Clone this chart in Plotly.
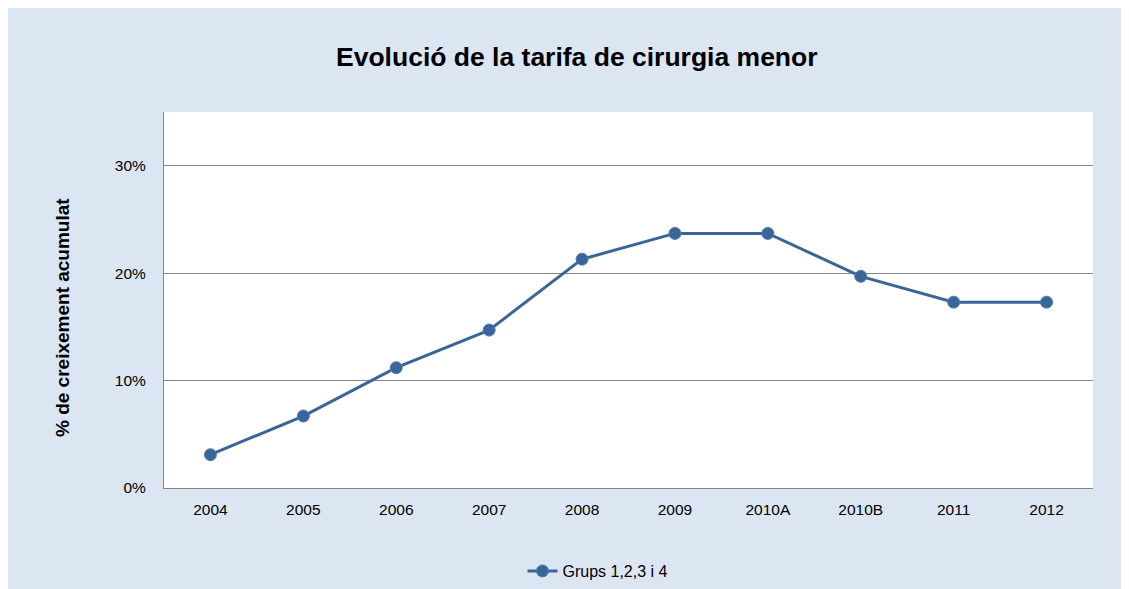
import plotly.graph_objects as go

categories = ["2004", "2005", "2006", "2007", "2008", "2009", "2010A", "2010B", "2011", "2012"]
values = [3.1, 6.7, 11.2, 14.7, 21.3, 23.7, 23.7, 19.7, 17.3, 17.3]
y_ticks = [0, 10, 20, 30]
y_tick_labels = ["0%", "10%", "20%", "30%"]
series_name = "Grups 1,2,3 i 4"
title_text = "Evolució de la tarifa de cirurgia menor"
y_title = "% de creixement acumulat"

OFF = 8  # page body margin
W, H = 1129 - OFF, 589 - OFF
L, R, T, B = 164 - OFF, 36, 112 - OFF, 101
pw, ph = W - L - R, H - T - B


def px_x(p):
    return (p - OFF - L) / pw


def px_y(p):
    return (H - B - (p - OFF)) / ph


line_color = "#3A6598"
font_family = "Liberation Sans, Arial, sans-serif"

fig = go.Figure()
fig.add_trace(go.Scatter(
    x=categories, y=values, mode="lines+markers", name=series_name,
    line=dict(color=line_color, width=3),
    marker=dict(color=line_color, size=12, line=dict(color="#4F7BB5", width=1)),
))

fig.update_layout(
    width=W, height=H,
    margin=dict(l=L, r=R, t=T, b=B, pad=0, autoexpand=False),
    paper_bgcolor="#DCE6F2",
    plot_bgcolor="white",
    font=dict(family=font_family, size=15, color="#000000"),
    showlegend=True,
    legend=dict(orientation="h", x=px_x(598), xanchor="center", y=px_y(571), yanchor="middle",
                font=dict(size=16), bgcolor="rgba(0,0,0,0)", itemwidth=30),
    annotations=[
        dict(text="<b>" + title_text + "</b>", xref="paper", yref="paper", x=px_x(577), y=px_y(57),
             xanchor="center", yanchor="middle", showarrow=False, font=dict(size=26.5, color="#000000")),
        dict(text="<b>" + y_title + "</b>", xref="paper", yref="paper", x=px_x(62), y=px_y(318),
             xanchor="center", yanchor="middle", textangle=-90, showarrow=False,
             font=dict(size=19, color="#000000")),
    ],
)
fig.update_xaxes(type="category", range=[-0.5, len(categories) - 0.5], showgrid=False, showline=True,
                 linecolor="#868686", linewidth=1,
                 ticks="", tickfont=dict(size=15.5), ticklabelstandoff=7, zeroline=False)
fig.update_yaxes(range=[0, 35], tickvals=y_ticks, ticktext=y_tick_labels, showgrid=True,
                 gridcolor="#868686", gridwidth=1, showline=True, linecolor="#868686", linewidth=1,
                 ticks="", tickfont=dict(size=15.5), ticklabelstandoff=14, zeroline=False)

fig.write_html("out.html")
